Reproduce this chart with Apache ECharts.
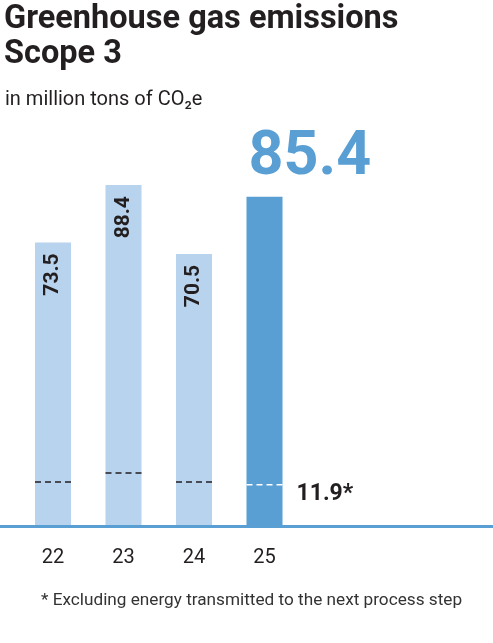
<!DOCTYPE html>
<html>
<head>
    <meta charset="UTF-8">
    <title>Greenhouse gas emissions Scope 3</title>
    <script src="https://cdn.jsdelivr.net/npm/echarts@6/dist/echarts.min.js"></script>
    <style>
        html, body { margin: 0; padding: 0; background: #fff; }
        #main { width: 493px; height: 643px; }
    </style>
</head>
<body>
    <div id="main"></div>
    <script>
        // data
        var years = ['22', '23', '24', '25'];
        var totals = [73.5, 88.4, 70.5, 85.4];
        var excluded = [11.2, 13.5, 11.2, 10.5];   // dashed marks inside the bars
        var notes = ['', '', '', '11.9*'];

        var lightBlue = '#b8d3ed';
        var darkBlue = '#5a9fd4';
        var ink = '#231f20';
        var last = totals.length - 1;

        var barData = totals.map(function(v, i) {
            if (i === last) {
                return {
                    value: v,
                    itemStyle: { color: darkBlue },
                    label: {
                        rotate: 0,
                        position: [2, -38],
                        align: 'left',
                        verticalAlign: 'middle',
                        color: darkBlue,
                        fontFamily: 'Roboto',
                        fontWeight: 'bold',
                        fontSize: 61
                    }
                };
            }
            return v;
        });

        var chart = echarts.init(document.getElementById('main'));

        var option = {
            animation: false,
            backgroundColor: '#fff',
            title: [
                {
                    text: 'Greenhouse gas emissions\nScope 3',
                    left: -1, top: -3,
                    textStyle: { fontFamily: 'Roboto', fontWeight: 'bold', fontSize: 32.5, lineHeight: 35, color: ink }
                },
                {
                    text: 'in million tons of CO₂e',
                    left: 0, top: 85,
                    textStyle: { fontFamily: 'Roboto', fontWeight: 'normal', fontSize: 20, color: ink }
                },
                {
                    text: '* Excluding energy transmitted to the next process step',
                    left: 36, top: 587,
                    textStyle: { fontFamily: 'Roboto', fontWeight: 'normal', fontSize: 17.2, color: '#333' }
                }
            ],
            grid: [
                { left: 53, right: 17, top: 140.5, bottom: 118 },
                { left: 0, right: 0, top: 140.5, bottom: 117 }
            ],
            xAxis: [
                {
                    type: 'category',
                    gridIndex: 0,
                    boundaryGap: false,
                    data: years.concat(['', '', '']),
                    axisLine: { show: false },
                    axisTick: { show: false },
                    axisLabel: { margin: 23, color: ink, fontFamily: 'Roboto', fontSize: 20 }
                },
                {
                    type: 'category',
                    gridIndex: 1,
                    data: [''],
                    axisLine: { show: true, lineStyle: { color: darkBlue, width: 3 } },
                    axisTick: { show: false },
                    axisLabel: { show: false }
                }
            ],
            yAxis: [
                { type: 'value', gridIndex: 0, min: 0, max: 100, show: false },
                { type: 'value', gridIndex: 1, min: 0, max: 100, show: false }
            ],
            series: [
                {
                    type: 'bar',
                    xAxisIndex: 0,
                    yAxisIndex: 0,
                    barWidth: 36,
                    itemStyle: { color: lightBlue },
                    label: {
                        show: true,
                        position: 'insideTop',
                        distance: 11,
                        rotate: 90,
                        align: 'right',
                        verticalAlign: 'middle',
                        color: ink,
                        fontFamily: 'Roboto',
                        fontWeight: 'bold',
                        fontSize: 21
                    },
                    data: barData,
                    z: 2
                },
                {
                    type: 'custom',
                    xAxisIndex: 0,
                    yAxisIndex: 0,
                    z: 3,
                    renderItem: function(params, api) {
                        var i = api.value(0);
                        var p = api.coord([i, api.value(1)]);
                        var half = 18;
                        var children = [{
                            type: 'line',
                            shape: { x1: p[0] - half, y1: p[1], x2: p[0] + half, y2: p[1] },
                            style: {
                                stroke: i === last ? '#fff' : ink,
                                lineWidth: 1.5,
                                lineDash: [6, 4]
                            }
                        }];
                        if (notes[i]) {
                            children.push({
                                type: 'text',
                                style: {
                                    text: notes[i],
                                    x: p[0] + half + 14,
                                    y: p[1] + 10,
                                    align: 'left',
                                    verticalAlign: 'middle',
                                    fill: ink,
                                    font: 'bold 23px Roboto'
                                }
                            });
                        }
                        return { type: 'group', children: children };
                    },
                    data: excluded.map(function(v, i) { return [i, v]; })
                }
            ]
        };

        chart.setOption(option);
    </script>
</body>
</html>
